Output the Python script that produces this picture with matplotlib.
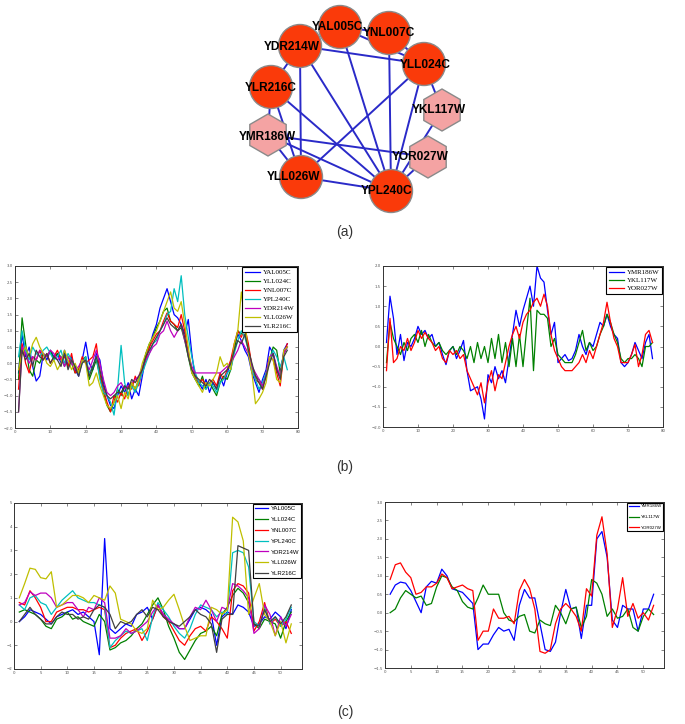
import numpy as np
import matplotlib
matplotlib.use("Agg")
import matplotlib.pyplot as plt
from matplotlib.patches import Circle, RegularPolygon

# ---- network (a) ----
circle_genes = ["YDR214W", "YLR216C", "YLL026W", "YPL240C", "YLL024C", "YNL007C", "YAL005C"]
hex_genes = ["YMR186W", "YKL117W", "YOR027W"]
node_pos = {
    "YAL005C": (340, 27), "YNL007C": (389, 33), "YLL024C": (424, 64),
    "YKL117W": (442, 110), "YOR027W": (428, 157), "YPL240C": (391, 191),
    "YLL026W": (301, 177), "YMR186W": (268, 135), "YLR216C": (271, 87),
    "YDR214W": (300, 46),
}
label_shift = {
    "YAL005C": (-3, 0), "YNL007C": (0, 0), "YLL024C": (1, 1), "YKL117W": (-3, 0),
    "YOR027W": (-8, 0), "YPL240C": (-4, 0), "YLL026W": (-7, 0), "YMR186W": (-1, 2),
    "YLR216C": (0, 1), "YDR214W": (-8, 1),
}
edges = [("YAL005C", "YNL007C"), ("YAL005C", "YLL024C"), ("YNL007C", "YLL024C"),
         ("YDR214W", "YLL024C"), ("YDR214W", "YLR216C"), ("YDR214W", "YLL026W"),
         ("YDR214W", "YPL240C"), ("YAL005C", "YPL240C"), ("YNL007C", "YPL240C"),
         ("YLL024C", "YLL026W"), ("YLL024C", "YPL240C"), ("YLR216C", "YMR186W"),
         ("YLR216C", "YLL026W"), ("YLR216C", "YPL240C"), ("YMR186W", "YOR027W"),
         ("YMR186W", "YPL240C"), ("YMR186W", "YLL026W"), ("YLL026W", "YPL240C"),
         ("YKL117W", "YPL240C"), ("YOR027W", "YPL240C"), ("YLL024C", "YKL117W")]

# ---- (b) expression profiles ----
genes_b1 = ["YAL005C", "YLL024C", "YNL007C", "YPL240C", "YDR214W", "YLL026W", "YLR216C"]
b1_yal005c = [-0.3, 0.9, 0.2, 0.5, -0.1, -0.55, -0.4, 0.3, 0.1, 0.4,
              0.2, 0.3, 0.0, 0.4, -0.1, 0.2, -0.2, -0.4, 0.1, 0.65,
              0.0, -0.2, 0.3, 0.1, -0.6, -1.0, -1.3, -1.4, -1.0, -0.7,
              -0.9, -0.6, -1.1, -0.8, -1.0, -0.4, 0.2, 0.5, 0.9, 1.2,
              1.7, 2.0, 2.3, 1.9, 1.5, 1.4, 1.2, 0.9, 1.35, 0.3,
              -0.5, -0.6, -0.8, -0.5, -0.9, -0.6, -0.8, -0.4, -0.7, -0.3,
              0.0, 0.5, 0.9, 0.7, 0.4, 0.2, -0.3, -0.6, -0.9, -0.5,
              -0.2, 0.5, 0.3, -0.2, -0.4, 0.4, 0.6]
b1_yll024c = [-0.5, 1.4, 0.6, -0.2, -0.4, 0.1, 0.0, 0.3, 0.2, 0.4,
              0.1, 0.3, 0.2, -0.1, 0.2, 0.0, -0.3, -0.2, 0.1, 0.2,
              -0.5, -0.2, 0.1, -0.4, -0.9, -1.3, -1.5, -1.2, -0.8, -1.0,
              -0.7, -1.0, -0.6, -0.8, -0.5, -0.2, 0.3, 0.6, 0.8, 1.1,
              1.3, 1.6, 1.7, 1.3, 1.2, 1.0, 1.1, 0.7, 0.2, -0.3,
              -0.5, -0.7, -0.4, -0.8, -0.6, -0.8, -1.0, -0.6, -0.4, -0.5,
              -0.2, 0.4, 1.0, 0.9, 1.0, 0.5, -0.1, -0.4, -0.5, -0.7,
              -0.4, 0.1, 0.5, 0.4, -0.3, 0.3, 0.5]
b1_ynl007c = [-0.8, 0.6, 0.0, -0.3, 0.2, 0.1, 0.4, 0.1, 0.3, 0.0,
              0.2, 0.4, 0.1, 0.2, -0.1, 0.3, -0.3, -0.2, 0.2, 0.0,
              0.1, 0.2, 0.6, -0.3, -0.8, -1.2, -1.5, -1.0, -1.2, -0.9,
              -1.1, -0.7, -0.8, -0.4, -0.7, -0.2, 0.1, 0.5, 0.7, 0.9,
              1.0, 1.3, 1.55, 1.3, 1.2, 1.1, 1.5, 1.0, 0.3, -0.2,
              -0.4, -0.6, -0.5, -0.7, -0.6, -0.5, -0.7, -0.3, -0.5, -0.2,
              0.1, 0.6, 1.0, 0.8, 1.1, 0.6, -0.1, -0.5, -0.6, -0.8,
              -0.3, 0.2, 0.1, -0.3, -0.7, 0.3, 0.6]
b1_ypl240c = [0.2, 1.0, 0.4, 0.1, 0.5, 0.3, 0.2, 0.4, 0.5, 0.3,
              0.1, 0.2, 0.4, 0.0, 0.3, 0.1, -0.1, -0.3, 0.0, 0.2,
              -0.3, -0.1, 0.2, -0.5, -0.9, -1.0, -1.2, -1.6, -0.8, 0.55,
              -0.6, -1.0, -0.7, -0.9, -0.6, -0.3, 0.0, 0.3, 0.6, 0.7,
              1.0, 1.2, 1.5, 1.6, 2.3, 1.9, 2.7, 1.5, 0.8, 0.2,
              -0.3, -0.6, -0.7, -0.8, -0.6, -0.7, -0.9, -0.6, -0.5, -0.3,
              -0.2, 0.3, 0.7, 1.0, 0.8, 0.4, -0.2, -0.5, -0.8, -0.6,
              -0.3, 0.1, 0.4, 0.2, -0.1, 0.2, -0.2]
b1_ydr214w = [-1.5, 0.5, 0.3, 0.0, 0.2, 0.1, 0.4, 0.3, 0.2, 0.4,
              0.3, 0.1, 0.2, -0.1, 0.2, 0.0, -0.2, -0.1, 0.1, 0.0,
              -0.2, 0.1, 0.4, 0.0, -0.5, -0.9, -1.0, -0.9, -0.7, -0.6,
              -0.8, -0.7, -0.6, -0.5, -0.4, -0.1, 0.1, 0.3, 0.5, 0.6,
              0.9, 1.0, 1.3, 1.0, 0.8, 1.0, 1.2, 0.7, 0.3, -0.1,
              -0.3, -0.3, -0.3, -0.3, -0.3, -0.3, -0.3, -0.3, -0.2, -0.1,
              0.0, 0.2, 0.4, 0.7, 0.5, 0.3, -0.1, -0.3, -0.5, -0.7,
              -0.4, 0.2, 0.3, -0.1, -0.4, 0.3, 0.5]
b1_yll026w = [-0.2, 0.3, 0.5, 0.2, 0.6, 0.8, 0.5, 0.3, 0.0, -0.1,
              0.1, -0.2, 0.0, 0.4, 0.1, -0.2, 0.0, -0.3, 0.1, 0.0,
              -0.7, -0.6, -0.3, -0.7, -1.0, -1.3, -1.4, -1.2, -1.0, -1.4,
              -0.9, -1.1, -0.6, -0.8, -0.5, 0.0, 0.3, 0.6, 0.8, 1.0,
              1.3, 1.6, 1.9, 2.2, 1.7, 1.6, 1.9, 1.2, 0.5, -0.3,
              -0.5, -0.7, -0.9, -0.6, -0.7, -0.5, -0.3, 0.2, -0.1, 0.0,
              -0.2, 0.6, 1.0, 2.2, 1.3, 0.3, -0.3, -1.25, -1.1, -0.9,
              -0.6, 0.2, 0.1, -0.5, -0.6, 0.4, 0.5]
b1_ylr216c = [-1.5, 0.4, 0.1, 0.3, -0.1, 0.4, 0.2, 0.1, 0.3, 0.0,
              0.2, 0.1, -0.1, 0.3, -0.2, 0.1, -0.1, -0.4, 0.0, 0.1,
              -0.4, -0.1, 0.2, -0.2, -0.7, -1.0, -1.1, -1.0, -0.9, -0.9,
              -0.7, -0.8, -0.5, -0.6, -0.4, -0.2, 0.2, 0.4, 0.6, 0.8,
              1.0, 1.2, 1.4, 1.2, 1.1, 1.0, 1.2, 0.8, 0.2, -0.2,
              -0.4, -0.5, -0.6, -0.7, -0.5, -0.6, -0.8, -0.4, -0.3, -0.2,
              0.0, 0.4, 0.7, 0.6, 0.9, 0.4, 0.0, -0.4, -0.6, -0.8,
              -0.4, 0.0, 0.3, -0.2, -0.5, 0.2, 0.4]

genes_b2 = ["YMR186W", "YKL117W", "YOR027W"]
b2_ymr186w = [0.1, 1.25, 0.7, -0.2, 0.3, -0.35, 0.1, 0.0, 0.2, 0.5,
              0.3, 0.4, 0.2, 0.3, 0.0, 0.1, -0.2, -0.45, -0.1, 0.0,
              -0.3, -0.1, 0.15, -0.6, -1.1, -1.05, -1.0, -1.3, -1.8, -0.7,
              -0.9, -0.5, -0.8, -0.6, -0.9, -0.3, 0.3, 0.9, 0.5, 0.9,
              1.2, 1.5, 1.0, 2.0, 1.7, 1.6, 0.9, 0.3, 0.6, -0.4,
              -0.3, -0.2, -0.35, -0.3, -0.1, 0.3, 0.0, -0.2, 0.1, 0.0,
              0.3, 0.6, 0.5, 0.8, 0.5, 0.3, 0.2, -0.4, -0.5, -0.4,
              -0.2, 0.1, -0.1, -0.3, 0.1, 0.3, -0.3]
b2_ykl117w = [-0.4, 0.6, 0.2, 0.0, -0.2, 0.1, -0.1, 0.2, 0.3, 0.1,
              0.4, 0.0, 0.3, 0.1, 0.0, 0.1, -0.1, -0.2, -0.1, 0.0,
              -0.2, 0.0, -0.1, -0.3, 0.0, -0.4, 0.1, -0.3, 0.0, -0.4,
              0.2, -0.3, 0.3, -0.4, 0.1, -0.5, 0.2, -0.5, 0.3, -0.5,
              0.4, 1.2, -0.6, 0.9, 0.8, 0.8, 0.7, 0.0, 0.2, -0.2,
              -0.3, -0.4, -0.4, -0.4, -0.2, 0.1, 0.4, -0.1, 0.1, -0.1,
              0.0, 0.3, 0.5, 0.8, 0.6, 0.3, 0.1, -0.3, -0.4, -0.3,
              -0.3, -0.2, -0.3, -0.5, 0.0, 0.0, 0.1]
b2_yor027w = [-0.6, 0.7, -0.4, -0.3, 0.0, -0.1, 0.2, -0.1, 0.1, 0.4,
              0.2, 0.35, 0.2, 0.1, -0.1, 0.0, -0.3, -0.4, -0.1, -0.2,
              -0.1, -0.3, -0.2, -0.6, -0.8, -1.0, -1.2, -0.9, -1.4, -0.9,
              -0.6, -1.1, -0.7, -0.8, -0.4, 0.0, 0.3, 0.5, 0.2, 0.6,
              0.8, 0.9, 1.1, 1.2, 1.0, 1.3, 1.0, 0.3, -0.1, -0.3,
              -0.5, -0.6, -0.6, -0.6, -0.5, -0.4, -0.2, -0.4, -0.1, -0.3,
              0.0, 0.3, 0.6, 1.1, 0.6, 0.2, 0.0, -0.4, -0.4, -0.4,
              -0.2, 0.05, -0.5, -0.2, 0.3, 0.4, 0.1]

# ---- (c) expression profiles ----
c1_yal005c = [0.0, 0.2, 0.5, 0.4, 0.3, 0.1, -0.1, 0.2, 0.3, 0.4,
              0.5, 0.3, 0.4, 0.2, 0.0, -1.4, 3.5, -0.3, -0.5, -0.3,
              -0.1, -0.2, 0.3, 0.4, 0.6, 0.1, 0.7, 0.3, 0.0, -0.1,
              -0.3, -0.3, 0.1, 0.5, 0.6, 0.5, 0.3, -1.0, 0.2, 0.4,
              0.3, 0.7, 0.6, 0.4, -0.2, -0.1, 0.2, 0.1, 0.4, 0.2,
              -0.3, 0.5]
c1_yll024c = [0.4, 0.5, 0.4, 0.3, 0.1, -0.2, -0.3, 0.1, 0.2, 0.4,
              0.1, 0.2, 0.0, -0.1, -0.2, 0.3, 0.0, -1.2, -1.1, -0.9,
              -0.8, -0.6, -0.3, -0.1, 0.3, 0.7, 1.0, 0.5, -0.2, -0.7,
              -1.3, -1.6, -1.2, -0.8, -0.5, -0.4, -0.2, -0.6, 0.3, 0.6,
              1.1, 1.4, 1.2, 0.8, -0.1, -0.3, 0.1, 0.0, -0.1, -0.7,
              0.0, 0.4]
c1_ynl007c = [0.8, 0.7, 1.3, 1.0, 0.6, 0.0, 0.0, 0.4, 0.5, 0.6,
              0.6, 0.5, 0.5, 0.4, 0.5, 0.6, 0.5, -1.1, -1.0, -0.7,
              -0.5, -0.4, -0.3, -0.8, -0.4, 0.1, 0.7, 0.2, 0.0, -0.4,
              -0.8, -1.0, -0.6, -0.3, -0.2, -0.4, 0.2, 0.0, -0.3, -0.7,
              1.3, 1.6, 1.5, 1.2, -0.4, 0.0, 0.8, -0.1, 0.1, -0.2,
              0.0, -0.5]
c1_ypl240c = [0.7, 0.5, 1.0, 1.1, 0.8, 0.7, 0.3, 0.6, 0.9, 1.1,
              1.3, 1.0, 0.9, 0.8, 0.8, 0.7, 0.6, -1.1, -0.8, -0.6,
              -0.4, -0.5, -0.4, -0.3, -0.8, 0.2, 0.8, 0.5, 0.2, -0.2,
              -0.5, -0.7, -0.3, 0.3, 0.7, 0.6, 0.5, 0.2, 0.4, 0.3,
              2.9, 3.0, 2.9, 2.3, 0.0, -0.2, 0.6, -0.1, 0.2, -0.2,
              0.1, 0.6]
c1_ydr214w = [0.7, 0.8, 1.25, 1.1, 1.2, 1.2, 1.0, 0.6, 0.7, 0.8,
              0.8, 0.5, 0.2, 0.6, 0.5, 1.0, 0.8, -0.7, -0.7, -0.6,
              -0.3, -0.5, -0.4, -0.2, 0.0, 0.4, 0.7, 0.3, 0.1, -0.1,
              -0.3, -0.3, 0.2, 0.6, 0.5, 0.9, 0.5, 0.0, 0.6, 0.5,
              1.6, 1.5, 1.3, 1.0, -0.5, -0.3, 0.7, 0.3, -0.6, 0.2,
              -0.2, 0.3]
c1_yll026w = [1.0, 1.6, 2.25, 2.2, 1.85, 1.8, 2.1, 0.6, 0.7, 0.9,
              1.1, 1.1, 1.0, 0.8, 1.1, 1.0, 0.9, 1.5, 1.2, 0.1,
              0.0, -0.1, -0.4, -0.5, -0.3, 0.9, 0.5, 0.6, 0.9, 1.15,
              0.5, -0.2, -0.8, -0.7, -0.6, -0.6, 0.6, 0.5, 0.3, 0.5,
              4.4, 4.2, 3.4, 0.3, 1.0, 1.6, 0.3, 0.0, -0.6, 0.0,
              -0.9, -0.1]
c1_ylr216c = [0.0, 0.3, 0.6, 0.3, 0.1, -0.1, -0.1, 0.2, 0.4, 0.3,
              0.3, 0.1, 0.2, 0.1, 0.5, 0.7, 0.6, 0.3, -0.3, 0.0,
              -0.1, 0.0, 0.3, 0.5, 0.2, 0.6, 0.5, 0.2, 0.0, -0.1,
              -0.2, 0.0, 0.2, 0.5, 0.3, 0.2, -0.1, -1.3, 0.1, 0.3,
              0.3, 3.2, 3.1, 3.0, -0.1, -0.2, 0.5, 0.0, 0.2, -0.1,
              0.2, 0.7]

c2_ymr186w = [0.5, 0.75, 0.83, 0.8, 0.6, 0.3, 0.0, 0.7, 0.85, 0.8,
              1.18, 1.0, 0.65, 0.6, 0.55, 0.4, 0.25, -1.0, -0.85, -0.85,
              -0.6, -0.4, -0.5, -0.45, -0.75, 0.2, 0.63, 0.4, 0.4, -0.3,
              -1.0, -1.05, -0.8, 0.0, 0.63, 0.1, 0.15, -0.7, 0.2, 0.2,
              2.0, 2.2, 1.5, -0.2, -0.4, 0.2, 0.1, 0.1, -0.5, 0.1,
              0.1, 0.5]
c2_ykl117w = [0.0, 0.1, 0.4, 0.6, 0.5, 0.4, 0.45, 0.2, 0.25, 0.7,
              1.0, 0.95, 0.7, 0.6, 0.3, 0.15, 0.1, 0.4, 0.75, 0.5,
              0.5, 0.5, 0.0, -0.2, -0.25, -0.1, -0.05, -0.5, -0.55, -0.2,
              -0.3, -0.35, 0.2, 0.0, -0.3, 0.1, 0.15, -0.4, -0.1, 0.9,
              0.8, 0.5, -0.1, 0.1, -0.15, -0.1, 0.1, -0.4, -0.5, -0.1,
              0.1, -0.05]
c2_yor027w = [0.9, 1.3, 1.35, 1.1, 0.95, 0.5, 0.55, 0.7, 0.7, 0.8,
              1.05, 0.95, 0.65, 0.7, 0.75, 0.65, 0.6, -0.75, -0.5, -0.5,
              0.1, -0.15, -0.15, -0.1, -0.3, 0.6, 0.9, 0.65, 0.1, -1.05,
              -1.1, -1.0, -0.3, 0.1, 0.25, 0.1, -0.1, -0.5, 0.65, 0.45,
              2.1, 2.6, 1.6, -0.4, 0.1, 0.95, -0.1, 0.25, -0.15, 0.0,
              -0.2, 0.2]

colors7 = ["#0000ff", "#008000", "#ff0000", "#00bfbf", "#bf00bf", "#bfbf00", "#404040"]
colors3 = ["#0000ff", "#008000", "#ff0000"]

fig = plt.figure(figsize=(6.85, 7.24), dpi=100)

# background axes in pixel units for the network and captions
bg = fig.add_axes([0, 0, 1, 1])
bg.set_xlim(0, 685)
bg.set_ylim(724, 0)
bg.axis("off")

for a, b in edges:
    (x1, y1), (x2, y2) = node_pos[a], node_pos[b]
    bg.plot([x1, x2], [y1, y2], color="#2a2ac8", lw=1.4, zorder=1)

draw_order = ["YDR214W", "YLR216C", "YMR186W", "YLL026W", "YPL240C", "YOR027W",
              "YKL117W", "YLL024C", "YNL007C", "YAL005C"]
for i, g in enumerate(draw_order):
    x, y = node_pos[g]
    if g in hex_genes:
        p = RegularPolygon((x, y), numVertices=6, radius=21, orientation=0,
                           facecolor="#f4a3a3", edgecolor="#8a8a8a", lw=1.0)
    else:
        p = Circle((x, y), 21.5, facecolor="#fa3a0a", edgecolor="#8a8a8a", lw=1.0)
    p.set_zorder(2 + 2 * i)
    bg.add_patch(p)
    dx, dy = label_shift[g]
    bg.text(x + dx, y + dy, g, ha="center", va="center", fontsize=8.6,
            fontweight="bold", family="Liberation Sans", color="black", zorder=3 + 2 * i)

for txt, yy in [("(a)", 232), ("(b)", 467), ("(c)", 712)]:
    bg.text(345, yy, txt, ha="center", va="center", fontsize=10, color="#333333",
            family="Liberation Sans")


def panel(rect, series, names, colors, xlim, ylim, xticks, yticks, lfont, lsize, lspace):
    ax = fig.add_axes(rect)
    for ys, name, c in zip(series, names, colors):
        xs = np.arange(1, len(ys) + 1)
        ax.plot(xs, ys, color=c, lw=0.9, label=name)
    ax.set_xlim(*xlim)
    ax.set_ylim(*ylim)
    ax.set_xticks(xticks)
    ax.set_yticks(yticks)
    ax.tick_params(direction="in", length=2, width=0.5, labelsize=2.8,
                   top=True, right=True, colors="#555555", pad=1.5)
    for s in ax.spines.values():
        s.set_linewidth(0.7)
        s.set_color("#333333")
    leg = ax.legend(loc="upper right", prop={"family": lfont, "size": lsize},
                    fancybox=False, edgecolor="black", framealpha=1,
                    borderpad=0.35, labelspacing=lspace, handlelength=2.2,
                    handletextpad=0.4, borderaxespad=0.15)
    leg.get_frame().set_linewidth(0.8)
    return ax


panel([0.0219, 0.4088, 0.413, 0.2238],
      [b1_yal005c, b1_yll024c, b1_ynl007c, b1_ypl240c, b1_ydr214w, b1_yll026w, b1_ylr216c],
      genes_b1, colors7, (0, 80), (-2, 3), np.arange(0, 81, 10),
      np.arange(-2, 3.01, 0.5), "Liberation Serif", 5, 0.45)
panel([0.5591, 0.4102, 0.4088, 0.2224],
      [b2_ymr186w, b2_ykl117w, b2_yor027w],
      genes_b2, colors3, (0, 80), (-2, 2), np.arange(0, 81, 10),
      np.arange(-2, 2.01, 0.5), "Liberation Serif", 5, 0.3)
panel([0.0204, 0.076, 0.4204, 0.2293],
      [c1_yal005c, c1_yll024c, c1_ynl007c, c1_ypl240c, c1_ydr214w, c1_yll026w, c1_ylr216c],
      genes_b1, colors7, (0, 54), (-2, 5), np.arange(0, 51, 5),
      np.arange(-2, 5.01, 1), "Liberation Sans", 4.3, 0.95)
panel([0.562, 0.0773, 0.4073, 0.2293],
      [c2_ymr186w, c2_ykl117w, c2_yor027w],
      genes_b2, colors3, (0, 54), (-1.5, 3), np.arange(0, 51, 5),
      np.arange(-1.5, 3.01, 0.5), "Liberation Sans", 3.2, 1.5)

fig.savefig("out.png", dpi=100)
